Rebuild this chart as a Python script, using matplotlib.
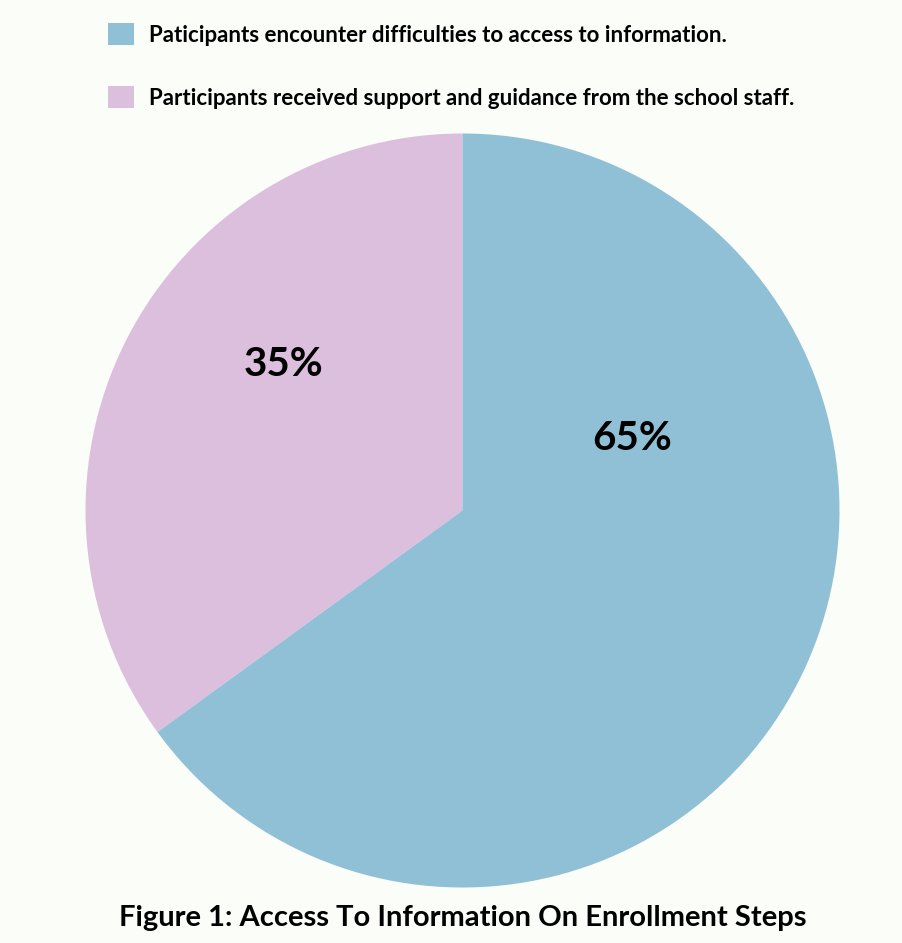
import matplotlib
matplotlib.use("Agg")
import matplotlib.pyplot as plt

# data
labels = [
    "Participants received support and guidance from the school staff.",
    "Paticipants encounter difficulties to access to information.",
]
shares = [35, 65]
colors = ["#dbbfdc", "#90c0d5"]
pct_text = ["35%", "65%"]
title = "Figure 1: Access To Information On Enrollment Steps"

plt.rcParams["font.family"] = ["Lato", "DejaVu Sans"]

W, H = 902, 943
bg = "#fbfdf8"
fig = plt.figure(figsize=(W / 100, H / 100), dpi=100, facecolor=bg)

# pie area: centre (462, 510), radius 377 px
r = 377
cx, cy = 462.5, 510.5
ax = fig.add_axes([(cx - r) / W, (H - cy - r) / H, 2 * r / W, 2 * r / H])
ax.set_facecolor(bg)
wedges, _ = ax.pie(shares, colors=colors, startangle=90, counterclock=True,
                   radius=1.0, wedgeprops=dict(linewidth=0))
ax.set_xlim(-1, 1)
ax.set_ylim(-1, 1)
ax.axis("off")

# percentage labels (offsets in units of the radius)
label_pos = [(-0.476, 0.386), (0.450, 0.192)]
for (x, y), t in zip(label_pos, pct_text):
    ax.text(x, y, t, ha="center", va="center", fontsize=29,
            fontweight="bold", color="black")

# legend (difficulties first)
leg = fig.legend([wedges[1], wedges[0]], [labels[1], labels[0]],
                 loc="upper left", bbox_to_anchor=(108 / W, 1 - 23 / H),
                 frameon=False, prop=dict(weight="bold", size=16),
                 handlelength=1.18, handleheight=1.18, handletextpad=0.68,
                 labelspacing=1.8, borderaxespad=0, borderpad=0)

fig.text(cx / W, 1 - 918 / H, title, ha="center", va="center",
         fontsize=21, fontweight="bold", color="black")

fig.savefig("out.png", dpi=100, facecolor=bg)
